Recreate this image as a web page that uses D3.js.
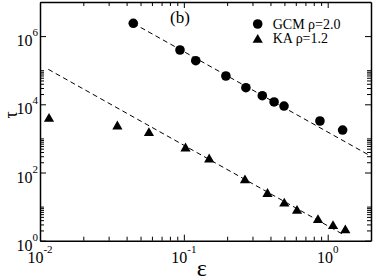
<!DOCTYPE html>
<html><head><meta charset="utf-8">
<script src="https://cdn.jsdelivr.net/npm/d3@7"></script>
<style>
body{margin:0;background:#fff}
svg{display:block}
text{font-family:"Liberation Serif","Times New Roman",serif;fill:#000}
</style>
</head><body>
<svg id="chart" width="374" height="280"></svg>
<script>
// GCM rho=2.0 (circles)
var gcmEps = [0.0445, 0.094, 0.121, 0.196, 0.270, 0.351, 0.424, 0.497, 0.883, 1.27];
var gcmTau = [2.37e6, 3.91e5, 1.90e5, 6.76e4, 3.07e4, 1.79e4, 1.17e4, 8.9e3, 3.24e3, 1.76e3];
// KA rho=1.2 (triangles)
var kaEps = [0.01155, 0.0345, 0.0572, 0.1027, 0.150, 0.266, 0.3815, 0.499, 0.612, 0.856, 1.089, 1.326];
var kaTau = [4.16e3, 2.47e3, 1.57e3, 559, 266, 65.3, 25.9, 13.6, 8.33, 4.45, 2.97, 2.23];
// dashed power law lines (end points)
var gcmFitEps = [0.0445, 2];
var gcmFitTau = [2.37e6, 300];
var kaFitEps = [0.01142, 1.32];
var kaFitTau = [1.06e5, 1.42];
// ticks
var xTicks = [0.01, 0.1, 1];
var xTickExp = ["-2", "-1", "0"];
var yTicks = [1, 1e2, 1e4, 1e6];
var yTickExp = ["0", "2", "4", "6"];
var legendLabels = ["GCM \u03c1=2.0", "KA \u03c1=1.2"];

var margin = {top: 2, right: 3, bottom: 39.3, left: 40};
var W = 374, H = 280;
var width = W - margin.left - margin.right,
    height = H - margin.top - margin.bottom;

var svg = d3.select("#chart");
var g = svg.append("g").attr("transform", `translate(${margin.left},${margin.top})`);

var x = d3.scaleLog().domain([0.01, 2]).range([0, width]);
var y = d3.scaleLog().domain([1, 1e7]).range([height, 0]);

// minor ticks
var xMinor = [];
[0.01, 0.1].forEach(function(b){ for (var k = 2; k <= 9; k++) xMinor.push(k * b); });
var yMinor = [];
[1, 1e2, 1e4].forEach(function(b){ for (var k = 2; k <= 10; k++) yMinor.push(k * b); });

function axisStyle(sel){
    sel.select(".domain").attr("stroke", "#000").attr("stroke-width", 1.5);
    sel.selectAll(".tick line").attr("stroke", "#000").attr("stroke-width", 1);
    sel.selectAll(".tick text").remove();
}

// bottom / top
[[d3.axisBottom, height], [d3.axisTop, 0]].forEach(function(a){
    var gx = g.append("g").attr("transform", `translate(0,${a[1]})`);
    gx.call(a[0](x).tickValues(xTicks).tickSize(-6).tickSizeOuter(0).tickFormat(""));
    axisStyle(gx);
    var gm = g.append("g").attr("transform", `translate(0,${a[1]})`);
    gm.call(a[0](x).tickValues(xMinor).tickSize(-4).tickSizeOuter(0).tickFormat(""));
    axisStyle(gm);
    gm.select(".domain").remove();
});
// left / right
[[d3.axisLeft, 0], [d3.axisRight, width]].forEach(function(a){
    var gy = g.append("g").attr("transform", `translate(${a[1]},0)`);
    gy.call(a[0](y).tickValues(yTicks).tickSize(-6).tickSizeOuter(0).tickFormat(""));
    axisStyle(gy);
    var gm = g.append("g").attr("transform", `translate(${a[1]},0)`);
    gm.call(a[0](y).tickValues(yMinor).tickSize(-4).tickSizeOuter(0).tickFormat(""));
    axisStyle(gm);
    gm.select(".domain").remove();
});

// tick labels with superscripts
var xl = g.append("g").selectAll("text")
    .data(xTicks)
    .enter()
    .append("text")
    .attr("x", function(d){ return x(d); })
    .attr("y", height + 22.5)
    .attr("text-anchor", "middle")
    .style("font-size", "16px");
xl.append("tspan").text("10");
xl.append("tspan").attr("dy", -10).style("font-size", "11px").text(function(d, i){ return xTickExp[i]; });

var yl = g.append("g").selectAll("text")
    .data(yTicks)
    .enter()
    .append("text")
    .attr("x", -2)
    .attr("y", function(d){ return y(d) + 10; })
    .attr("text-anchor", "end")
    .style("font-size", "16px");
yl.append("tspan").text("10");
yl.append("tspan").attr("dy", -10).style("font-size", "11px").text(function(d, i){ return yTickExp[i]; });

// axis titles
g.append("text")
    .attr("x", 161.7)
    .attr("y", 274)
    .attr("text-anchor", "middle")
    .style("font-size", "24px")
    .text("\u03b5");
g.append("text")
    .attr("transform", `translate(-23.5,${113}) rotate(-90)`)
    .attr("text-anchor", "middle")
    .style("font-size", "18px")
    .text("\u03c4");

// dashed lines
var line = d3.line().x(function(d){ return x(d[0]); }).y(function(d){ return y(d[1]); });
[[gcmFitEps, gcmFitTau], [kaFitEps, kaFitTau]].forEach(function(f){
    g.append("path")
        .datum(d3.zip(f[0], f[1]))
        .attr("d", line)
        .attr("fill", "none")
        .attr("stroke", "#000")
        .attr("stroke-width", 1)
        .attr("stroke-dasharray", "5,3.5");
});

var tri = "M0,-4.4L5.1,4.4L-5.1,4.4Z";

// circles
g.append("g").selectAll("circle")
    .data(d3.zip(gcmEps, gcmTau))
    .enter()
    .append("circle")
    .attr("cx", function(d){ return x(d[0]); })
    .attr("cy", function(d){ return y(d[1]); })
    .attr("r", 4.8)
    .attr("fill", "#000");

// triangles
g.append("g").selectAll("path")
    .data(d3.zip(kaEps, kaTau))
    .enter()
    .append("path")
    .attr("d", tri)
    .attr("transform", function(d){ return `translate(${x(d[0])},${y(d[1])})`; })
    .attr("fill", "#000");

// panel label
svg.append("text")
    .attr("x", 170)
    .attr("y", 23)
    .style("font-size", "17px")
    .text("(b)");

// legend
svg.append("circle").attr("cx", 257.7).attr("cy", 24).attr("r", 4.8).attr("fill", "#000");
svg.append("path").attr("d", tri).attr("transform", "translate(257.7,38.3)").attr("fill", "#000");
svg.selectAll(".leg")
    .data(legendLabels)
    .enter()
    .append("text")
    .attr("class", "leg")
    .attr("x", 272.7)
    .attr("y", function(d, i){ return 28.5 + i * 14.5; })
    .style("font-size", "14px")
    .text(function(d){ return d; });
</script>
</body></html>
